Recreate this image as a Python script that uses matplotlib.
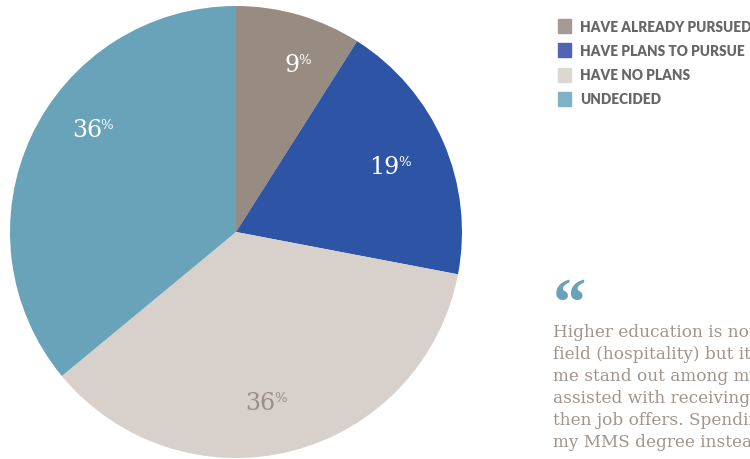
import matplotlib
matplotlib.use("Agg")
import matplotlib.pyplot as plt
import numpy as np
from matplotlib.transforms import offset_copy
from matplotlib.patches import Rectangle

categories = ["HAVE ALREADY PURSUED", "HAVE PLANS TO PURSUE", "HAVE NO PLANS", "UNDECIDED"]
values = [9, 19, 36, 36]
pie_colors = ["#988b82", "#2e55a5", "#d8d0cb", "#68a3b9"]
legend_colors = ["#a69b94", "#4f64b2", "#dcd7d1", "#80b2c5"]
label_colors = ["white", "white", "#9a8e86", "white"]
quote_lines = [
    "Higher education is not required in my",
    "field (hospitality) but it definitely helped",
    "me stand out among my peers. It also",
    "assisted with receiving internships and",
    "then job offers. Spending the time to get",
    "my MMS degree instead of working right away",
]

# label nudges (pixels: right, down) from the mid-angle anchor
label_nudge = [(12, 2), (-8, 5), (-14, 0), (16, -27)]

W, H = 750, 460
fig = plt.figure(figsize=(W / 100, H / 100), dpi=100)
fig.patch.set_facecolor("white")

cx, cy, R = 236, 233, 226
ax = fig.add_axes([(cx - R) / W, (H - cy - R) / H, 2 * R / W, 2 * R / H])
wedges, _ = ax.pie(values, colors=pie_colors, startangle=90, counterclock=False,
                   radius=1, wedgeprops=dict(linewidth=0))
ax.set_xlim(-1, 1)
ax.set_ylim(-1, 1)
ax.set_aspect("equal")
ax.axis("off")

serif = "DejaVu Serif"
fs_n, fs_p = 17, 9.5
for w, v, c, (nx, ny) in zip(wedges, values, label_colors, label_nudge):
    ang = np.deg2rad((w.theta1 + w.theta2) / 2)
    r = 0.78
    x, y = r * np.cos(ang), r * np.sin(ang)
    n = len(str(v))
    wn = n * 0.636 * fs_n
    wp = 0.84 * fs_p
    split = (wn - wp) / 2 + nx * 0.72
    dy = -ny * 0.72
    tr1 = offset_copy(ax.transData, fig=fig, x=split, y=dy, units="points")
    ax.text(x, y, f"{v}", transform=tr1, ha="right", va="center", fontsize=fs_n,
            family=serif, color=c)
    tr2 = offset_copy(ax.transData, fig=fig, x=split - 1.0, y=dy + 3.8, units="points")
    ax.text(x, y, "%", transform=tr2, ha="left", va="center", fontsize=fs_p,
            family=serif, color=c)

# legend
rows_y = [27, 51, 76, 100]
for lab, col, yy in zip(categories, legend_colors, rows_y):
    fig.patches.append(Rectangle(((558) / W, (H - yy - 7) / H), 13 / W, 14 / H,
                                 transform=fig.transFigure, color=col))
    fig.text(580 / W, (H - yy) / H, lab, ha="left", va="center", fontsize=9.8,
             family="Lato", weight="heavy", color="#666666")

# quote
fig.text(553 / W, (H - 325.5) / H, "\u201c", ha="left", va="baseline", fontsize=48,
         family="Liberation Serif", weight="bold", color="#68a3b9")
for i, line in enumerate(quote_lines):
    fig.text(553 / W, (H - 333 - 22 * i) / H, line, ha="left", va="center",
             fontsize=12.2, family=serif, color="#a0958e")

fig.savefig("out.png", dpi=100)
